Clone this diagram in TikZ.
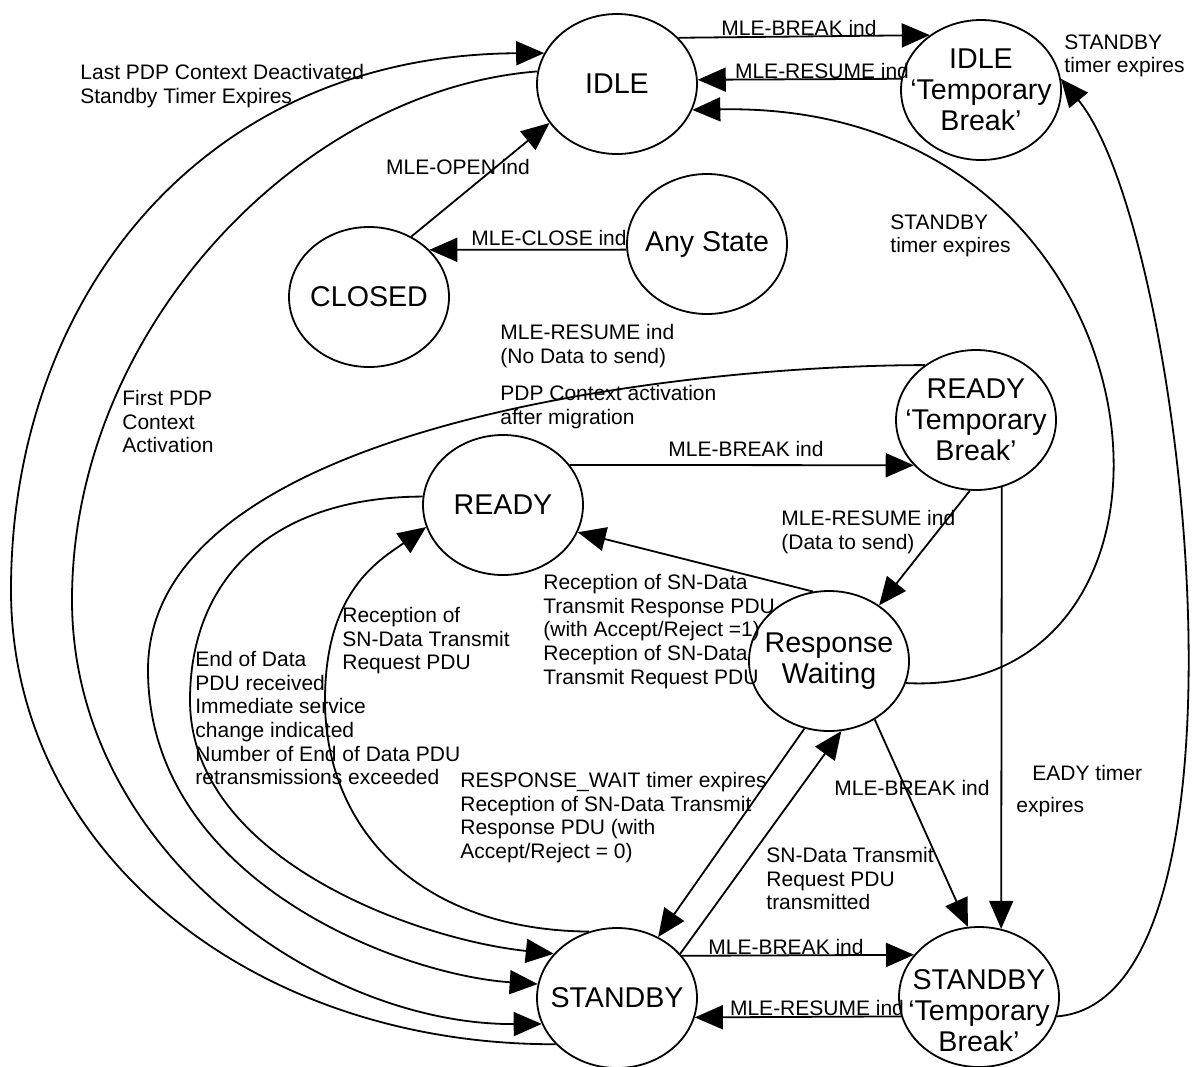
\documentclass[tikz,border=0pt]{standalone}
\usepackage{fontspec}
\setmainfont{Liberation Sans}
\usetikzlibrary{shapes.geometric, arrows.meta}

\begin{document}
\begin{tikzpicture}[
    x=0.5pt, y=-0.5pt,
    state/.style={ellipse, draw, line width=0.9pt, minimum width=80pt, minimum height=70pt, inner xsep=-10pt, inner ysep=0pt, align=center, font=\fontsize{14.3}{15.5}\selectfont},
    stext/.style={inner sep=0pt, align=center, font=\fontsize{14.3}{15.5}\selectfont},
    lbl/.style={inner sep=0pt, align=left, font=\fontsize{10.5}{11.8}\selectfont},
    arrow/.style={line width=0.9pt, -{Triangle[length=14pt, width=12pt]}}
]
\useasboundingbox (0,0) rectangle (1192,1066);

% States
\node[state] (idle) at (617,84) {IDLE};
\node[state] (idletb) at (981,90) {IDLE\\‘Temporary\\Break’};
\node[state] (any) at (707,244) {Any State};
\node[state] (closed) at (369,297) {CLOSED};
\node[state] (readytb) at (976,420) {READY\\‘Temporary\\Break’};
\node[state] (ready) at (503,505) {READY};
\node[state] (rw) at (829,661) {Response\\Waiting};
\node[state] (standby) at (617,998) {STANDBY};
\node[state] (standbytb) at (979,997) {};
\node[stext] (standbytbt) at (979,1011) {STANDBY\\‘Temporary\\Break’};

% Transitions
\draw[arrow] (idle.37) -- (idletb.133);
\draw[arrow] (idletb.172) -- (idle.3);
\draw[arrow] (closed.55) -- (idle.210);
\draw[arrow] (any.184) -- (closed.38);
\draw[arrow] (rw.-16) .. controls (1230,700) and (1180,100) .. (idle.-19);
\draw[arrow] (standbytb.-14) .. controls (1270,1000) and (1185,230) .. (idletb.8);
\draw[arrow] (standby.217) .. controls (250,1045) and (11,850) .. (11,590)
    .. controls (11,300) and (200,55) .. (idle.157);
\draw[arrow] (idle.171) .. controls (300,90) and (72,330) .. (72,600)
    .. controls (72,850) and (320,1025) .. (standby.199);
\draw[arrow] (readytb.133) .. controls (700,365) and (148,420) .. (148,670)
    .. controls (148,880) and (400,975) .. (standby.170);
\draw[arrow] (ready.174) .. controls (270,497) and (190,580) .. (190,700)
    .. controls (190,860) and (420,940) .. (standby.145);
\draw[arrow] (standby.113) .. controls (420,930) and (325,830) .. (325,700)
    .. controls (325,590) and (380,560) .. (ready.196);
\draw[arrow] (ready.31) -- (readytb.216);
\draw[arrow] (readytb.265) -- (rw.48);
\draw[arrow] (rw.103) -- (ready.-20);
\draw[arrow] (readytb.-69) -- (standbytb.72);
\draw[arrow] (rw.-52) -- (standbytb.99);
\draw[arrow] (rw.250) -- (standby.56);
\draw[arrow] (standby.35) -- (rw.-80);
\draw[arrow] (standby.33) -- (standbytb.147);
\draw[arrow] (standbytb.194) -- (standby.-14);

% Labels
\node[lbl, anchor=north west] (l1) at (80,64) {Last PDP Context Deactivated\\Standby Timer Expires};
\node[lbl] (l2) at (799,28) {MLE-BREAK ind};
\node[lbl] (l3) at (822,71) {MLE-RESUME ind};
\node[lbl, anchor=north west] (l4) at (1064,34) {STANDBY\\timer expires};
\node[lbl] (l5) at (458,167) {MLE-OPEN ind};
\node[lbl] (l6) at (549,238) {MLE-CLOSE ind};
\node[lbl, anchor=north west] (l7) at (890,214) {STANDBY\\timer expires};
\node[lbl, anchor=north west] (l8) at (500,324) {MLE-RESUME ind\\(No Data to send)};
\node[lbl, anchor=north west] (l9) at (500,385) {PDP Context activation\\after migration};
\node[lbl, anchor=north west] (l10) at (122,390) {First PDP\\Context\\Activation};
\node[lbl] (l11) at (746,449) {MLE-BREAK ind};
\node[lbl, anchor=north west] (l12) at (781,510) {MLE-RESUME ind\\(Data to send)};
\node[lbl, anchor=north west] (l13) at (543,574) {Reception of SN-Data\\Transmit Response PDU\\(with Accept/Reject =1)\\Reception of SN-Data\\Transmit Request PDU};
\node[lbl, anchor=north west] (l14) at (342,607) {Reception of\\SN-Data Transmit\\Request PDU};
\node[lbl, anchor=north west] (l15) at (195,651) {End of Data\\PDU received\\Immediate service\\change indicated\\Number of End of Data PDU\\retransmissions exceeded};
\node[lbl, anchor=north west] (l16) at (460,772) {RESPONSE\_WAIT timer expires\\Reception of SN-Data Transmit\\Response PDU (with\\Accept/Reject = 0)};
\node[lbl] (l17) at (912,788) {MLE-BREAK ind};
\node[lbl, anchor=north west] (l18) at (1032,765) {EADY timer};
\node[lbl, anchor=north west] (l19) at (1016,797) {expires};
\node[lbl, anchor=north west] (l20) at (766,847) {SN-Data Transmit\\Request PDU\\transmitted};
\node[lbl] (l21) at (786,947) {MLE-BREAK ind};
\node[lbl] (l22) at (817,1008) {MLE-RESUME ind};
\end{tikzpicture}
\end{document}
